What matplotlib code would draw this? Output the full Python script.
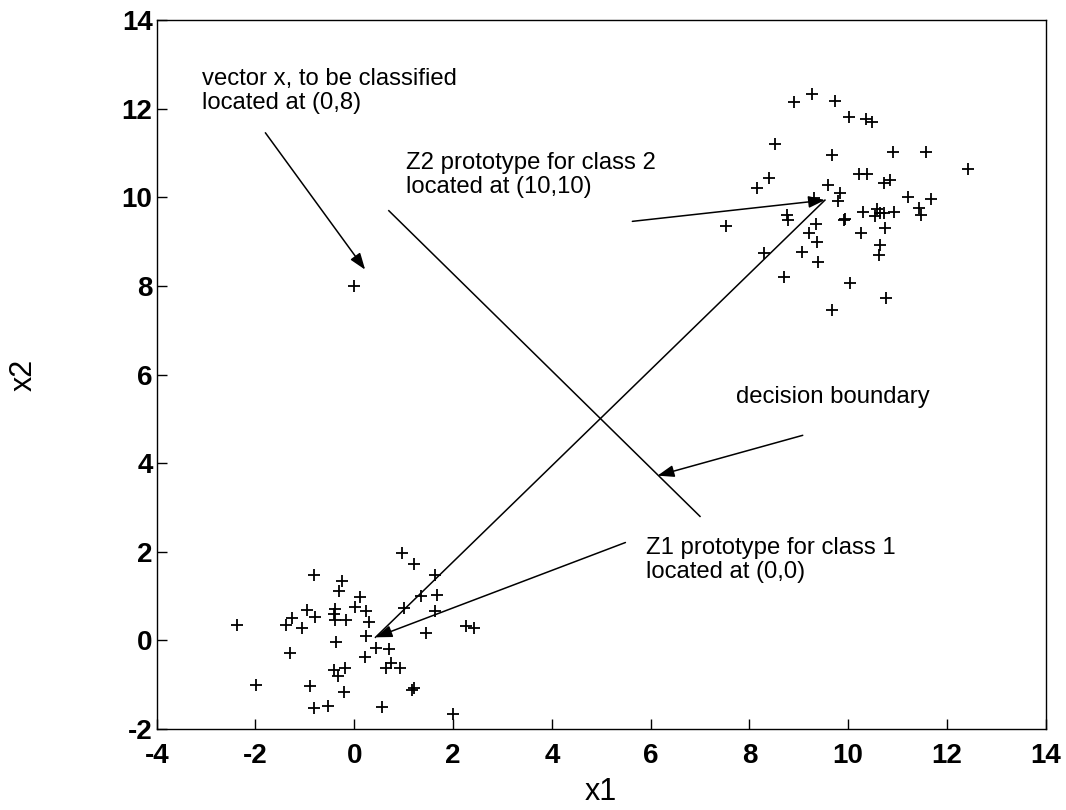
import matplotlib
matplotlib.use("Agg")
import matplotlib.pyplot as plt

# ---- data ----
class1_x = [-2.37, -0.82, -0.25, -0.30, 0.12, 0.02, 0.24, 0.29, 0.24, -0.38, -0.42, -0.38, -0.17,
            -0.96, -0.79, -1.26, -1.38, -1.06, -1.31, -0.37, 0.43, 0.70, 0.22, 0.74, 0.65, 0.92,
            -0.42, -0.18, -0.33, -0.20, -0.90, -1.98, -0.82, -0.53, 0.57, 1.20, 1.17, 1.99, 0.97,
            1.20, 1.64, 1.36, 1.67, 1.01, 1.64, 1.46, 2.26, 2.43]
class1_y = [0.35, 1.47, 1.34, 1.11, 0.99, 0.76, 0.66, 0.41, 0.10, 0.70, 0.59, 0.47, 0.46,
            0.68, 0.53, 0.50, 0.34, 0.29, -0.29, -0.03, -0.17, -0.19, -0.37, -0.50, -0.62, -0.63,
            -0.67, -0.63, -0.80, -1.17, -1.03, -1.01, -1.52, -1.47, -1.50, -1.07, -1.12, -1.67, 1.98,
            1.72, 1.47, 1.00, 1.02, 0.74, 0.66, 0.16, 0.32, 0.29]

class2_x = [8.91, 9.27, 9.74, 10.01, 10.36, 10.48, 8.51, 9.67, 10.90, 11.58, 12.42, 8.39, 8.15,
            9.60, 10.22, 10.38, 10.72, 10.84, 9.84, 9.80, 9.30, 11.22, 11.67, 11.44, 11.47, 8.76,
            8.79, 7.52, 10.30, 10.58, 10.65, 10.55, 10.92, 10.73, 9.94, 9.91, 10.75, 9.35, 9.20,
            9.37, 10.26, 10.65, 10.63, 9.06, 8.30, 9.39, 8.70, 10.04, 10.77, 9.67]
class2_y = [12.16, 12.34, 12.17, 11.82, 11.76, 11.71, 11.20, 10.96, 11.03, 11.02, 10.65, 10.44, 10.22,
            10.29, 10.52, 10.54, 10.33, 10.39, 10.09, 9.92, 9.99, 10.01, 9.97, 9.77, 9.60, 9.60,
            9.49, 9.35, 9.66, 9.73, 9.64, 9.58, 9.66, 9.64, 9.52, 9.49, 9.30, 9.39, 9.20,
            9.00, 9.20, 8.92, 8.71, 8.77, 8.75, 8.54, 8.21, 8.06, 7.74, 7.47]

vector_x = [0.0]
vector_y = [8.0]

# lines
boundary_x = [0.7, 7.0]
boundary_y = [9.7, 2.8]
link_x = [0.43, 9.53]
link_y = [0.07, 9.94]

# annotations: text, text pos, arrow tail, arrow tip
texts = ["vector x, to be classified\nlocated at (0,8)",
         "Z2 prototype for class 2\nlocated at (10,10)",
         "decision boundary",
         "Z1 prototype for class 1\nlocated at (0,0)"]
text_pos = [(-3.08, 12.40), (1.05, 10.50), (7.73, 5.49), (5.91, 1.82)]
arrow_tail = [(-1.80, 11.46), (5.63, 9.46), (9.08, 4.63), (5.49, 2.21)]
arrow_tip = [(0.22, 8.37), (9.53, 9.94), (6.14, 3.72), (0.43, 0.07)]

xticks = [-4, -2, 0, 2, 4, 6, 8, 10, 12, 14]
yticks = [-2, 0, 2, 4, 6, 8, 10, 12, 14]

plt.rcParams['font.family'] = ['Liberation Sans', 'DejaVu Sans']

fig = plt.figure(figsize=(10.66, 8.10), dpi=100)
ax = fig.add_axes([0.147, 0.100, 0.834, 0.875])

mk = dict(marker='+', linestyle='none', color='k', markersize=9, markeredgewidth=1.3)
ax.plot(class1_x, class1_y, **mk)
ax.plot(class2_x, class2_y, **mk)
ax.plot(vector_x, vector_y, **mk)

ax.plot(boundary_x, boundary_y, color='k', lw=1.1)
ax.plot(link_x, link_y, color='k', lw=1.1)

for t, p in zip(texts, text_pos):
    ax.text(p[0], p[1], t, ha='left', va='center', fontsize=17.2, linespacing=1.1)

for a, b in zip(arrow_tail, arrow_tip):
    ax.annotate('', xy=b, xytext=a,
                arrowprops=dict(arrowstyle='-|>,head_length=1.0,head_width=0.36',
                                mutation_scale=10, lw=1.1, color='k',
                                shrinkA=0, shrinkB=0))

ax.set_xlim(-4, 14)
ax.set_ylim(-2, 14)
ax.set_xticks(xticks)
ax.set_yticks(yticks)
ax.set_xticklabels([str(v) for v in xticks], fontsize=20, fontweight='bold')
ax.set_yticklabels([str(v) for v in yticks], fontsize=20, fontweight='bold')
ax.tick_params(axis='both', direction='in', length=7, width=1.0)
ax.tick_params(axis='x', pad=10)
ax.tick_params(axis='y', pad=3)
for s in ax.spines.values():
    s.set_linewidth(1.0)

ax.set_xlabel('x1', fontsize=22, labelpad=6)
ax.set_ylabel('x2', fontsize=22, labelpad=60)

fig.savefig('out.png', dpi=100)
